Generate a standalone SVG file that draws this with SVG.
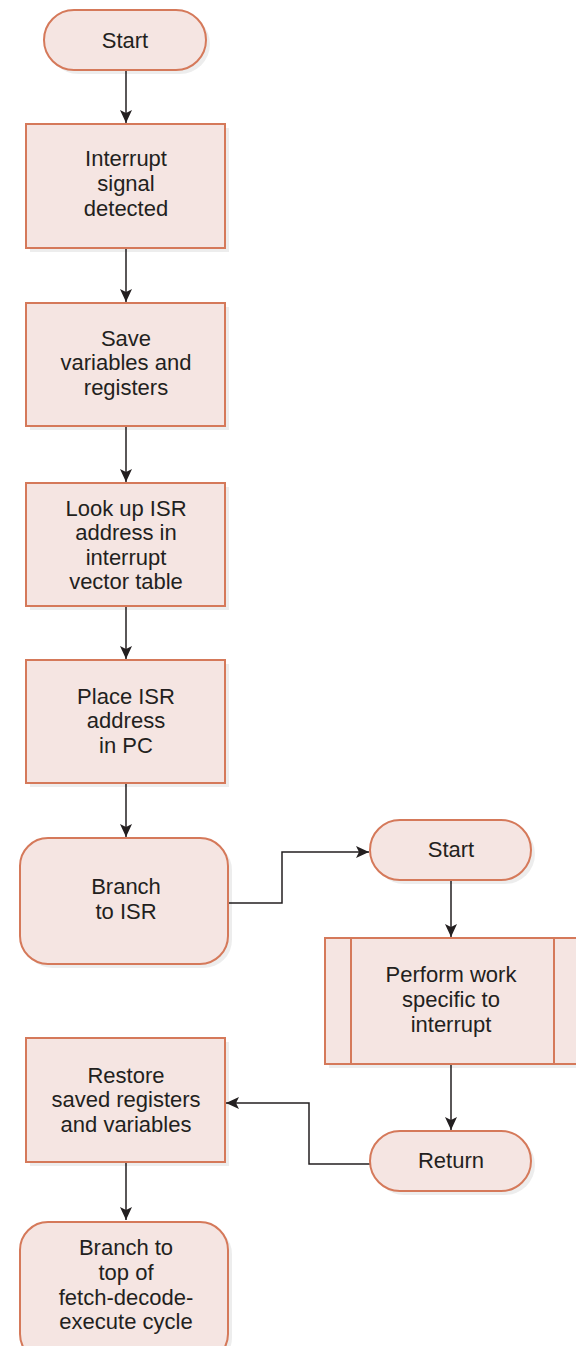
<svg xmlns="http://www.w3.org/2000/svg" width="576" height="1346" viewBox="0 0 576 1346">
<style>
.n{fill:#f5e5e2;stroke:#d5795a;stroke-width:2}
.sh{fill:#000;opacity:0.07;stroke:none}
.t{font-family:"Liberation Sans",Arial,sans-serif;font-size:22px;fill:#231f20;text-anchor:middle}
.c{fill:none;stroke:#231f20;stroke-width:1.5}
</style>
<defs>
<marker id="a" markerUnits="userSpaceOnUse" markerWidth="14" markerHeight="12" refX="13" refY="6" orient="auto">
<path d="M0,0 L13,6 L0,12 L3,6 z" fill="#231f20"/>
</marker>
</defs>
<rect width="576" height="1346" fill="#fff"/>
<g id="connectors">
<line class="c" x1="126" y1="70" x2="126" y2="123" marker-end="url(#a)"/>
<line class="c" x1="126" y1="248" x2="126" y2="302" marker-end="url(#a)"/>
<line class="c" x1="126" y1="426" x2="126" y2="482" marker-end="url(#a)"/>
<line class="c" x1="126" y1="606" x2="126" y2="659" marker-end="url(#a)"/>
<line class="c" x1="126" y1="783" x2="126" y2="837" marker-end="url(#a)"/>
<polyline class="c" points="228,903 282,903 282,852 369,852" marker-end="url(#a)"/>
<line class="c" x1="451" y1="880" x2="451" y2="937" marker-end="url(#a)"/>
<line class="c" x1="451" y1="1064" x2="451" y2="1130" marker-end="url(#a)"/>
<polyline class="c" points="370,1164 309,1164 309,1103 226,1103" marker-end="url(#a)"/>
<line class="c" x1="126" y1="1162" x2="126" y2="1220" marker-end="url(#a)"/>
</g>
<g id="start1">
<rect class="sh" x="48" y="14" width="162" height="60" rx="30"/>
<rect class="n" x="44" y="10" width="162" height="60" rx="30"/>
<text class="t" x="125" y="48">Start</text>
</g>
<g id="interrupt">
<rect class="sh" x="30" y="128" width="199" height="124"/>
<rect class="n" x="26" y="124" width="199" height="124"/>
<text class="t" x="126" y="166">Interrupt</text>
<text class="t" x="126" y="191">signal</text>
<text class="t" x="126" y="216">detected</text>
</g>
<g id="save">
<rect class="sh" x="30" y="307" width="199" height="123"/>
<rect class="n" x="26" y="303" width="199" height="123"/>
<text class="t" x="126" y="346">Save</text>
<text class="t" x="126" y="370">variables and</text>
<text class="t" x="126" y="395">registers</text>
</g>
<g id="lookup">
<rect class="sh" x="30" y="487" width="199" height="123"/>
<rect class="n" x="26" y="483" width="199" height="123"/>
<text class="t" x="126" y="516">Look up ISR</text>
<text class="t" x="126" y="540">address in</text>
<text class="t" x="126" y="565">interrupt</text>
<text class="t" x="126" y="589">vector table</text>
</g>
<g id="place">
<rect class="sh" x="30" y="664" width="199" height="123"/>
<rect class="n" x="26" y="660" width="199" height="123"/>
<text class="t" x="126" y="704">Place ISR</text>
<text class="t" x="126" y="728">address</text>
<text class="t" x="126" y="753">in PC</text>
</g>
<g id="branchisr">
<rect class="sh" x="24" y="842" width="208" height="126" rx="28"/>
<rect class="n" x="20" y="838" width="208" height="126" rx="28"/>
<text class="t" x="126" y="894">Branch</text>
<text class="t" x="126" y="919">to ISR</text>
</g>
<g id="start2">
<rect class="sh" x="374" y="824" width="161" height="60" rx="30"/>
<rect class="n" x="370" y="820" width="161" height="60" rx="30"/>
<text class="t" x="451" y="857">Start</text>
</g>
<g id="perform">
<rect class="sh" x="329" y="942" width="260" height="126"/>
<rect class="n" x="325" y="938" width="260" height="126"/>
<line class="n" x1="351" y1="938" x2="351" y2="1064"/>
<line class="n" x1="554" y1="938" x2="554" y2="1064"/>
<text class="t" x="451" y="982">Perform work</text>
<text class="t" x="451" y="1007">specific to</text>
<text class="t" x="451" y="1032">interrupt</text>
</g>
<g id="restore">
<rect class="sh" x="30" y="1042" width="199" height="124"/>
<rect class="n" x="26" y="1038" width="199" height="124"/>
<text class="t" x="126" y="1083">Restore</text>
<text class="t" x="126" y="1107">saved registers</text>
<text class="t" x="126" y="1132">and variables</text>
</g>
<g id="return">
<rect class="sh" x="374" y="1135" width="161" height="60" rx="30"/>
<rect class="n" x="370" y="1131" width="161" height="60" rx="30"/>
<text class="t" x="451" y="1168">Return</text>
</g>
<g id="branchtop">
<rect class="sh" x="24" y="1226" width="208" height="140" rx="28"/>
<rect class="n" x="20" y="1222" width="208" height="140" rx="28"/>
<text class="t" x="126" y="1255">Branch to</text>
<text class="t" x="126" y="1280">top of</text>
<text class="t" x="126" y="1305">fetch-decode-</text>
<text class="t" x="126" y="1329">execute cycle</text>
</g>
</svg>
